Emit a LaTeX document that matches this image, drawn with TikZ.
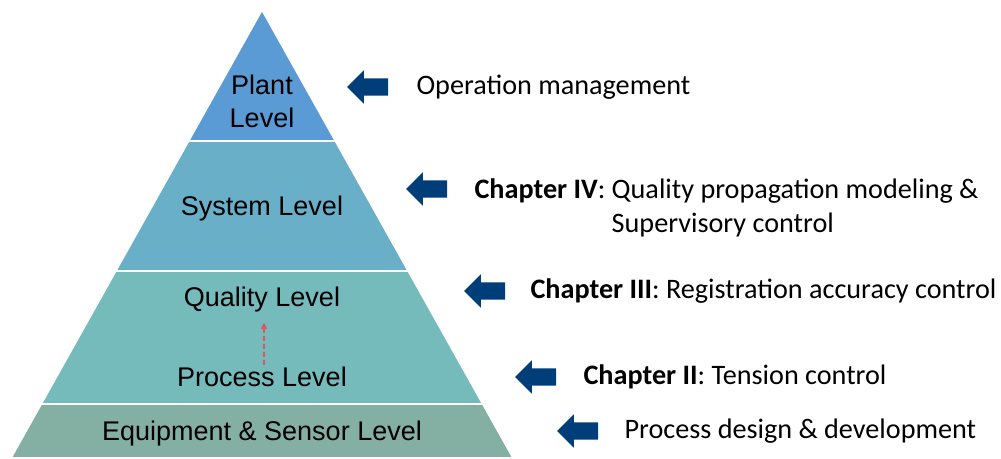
\documentclass[tikz,border=0pt]{standalone}
\usepackage{fontspec}
\setmainfont{Carlito}
\newfontfamily\levelfont{Liberation Sans}
\usepackage{tikz}
\usetikzlibrary{arrows.meta,calc,positioning,shapes.arrows}

\definecolor{plantblue}{RGB}{91,155,213}
\definecolor{systemteal}{RGB}{106,175,200}
\definecolor{qualityteal}{RGB}{118,187,188}
\definecolor{equipgreen}{RGB}{132,176,164}
\definecolor{arrowblue}{RGB}{0,62,122}
\definecolor{flowred}{RGB}{228,82,92}

\begin{document}
\begin{tikzpicture}[
    x=1pt, y=-1pt,
    band/.style={draw=white, line width=1.6pt},
    level/.style={font=\levelfont\fontsize{27}{33}\selectfont, align=center, inner sep=0},
    leftarrow/.style={single arrow, shape border rotate=180, fill=arrowblue,
        minimum height=41pt, inner xsep=0, inner ysep=8.5pt, single arrow head extend=8pt},
    note/.style={font=\fontsize{28.2}{34}\selectfont, align=left, inner sep=0},
    flow/.style={flowred, line width=1.2pt, dash pattern=on 5pt off 3pt,
        -{Triangle[length=6pt,width=6pt]}}]

\useasboundingbox (0,0) rectangle (1001,458);

% pyramid outline and band corners
\coordinate (apex) at (262,10);
\coordinate (bl) at (11,458);
\coordinate (br) at (513,458);
\coordinate (l1) at ($(apex)!0.2924!(bl)$);
\coordinate (r1) at ($(apex)!0.2924!(br)$);
\coordinate (l2) at ($(apex)!0.5826!(bl)$);
\coordinate (r2) at ($(apex)!0.5826!(br)$);
\coordinate (l3) at ($(apex)!0.8795!(bl)$);
\coordinate (r3) at ($(apex)!0.8795!(br)$);

\path[band, fill=plantblue]   (apex) -- (r1) -- (l1) -- cycle;
\path[band, fill=systemteal]  (l1) -- (r1) -- (r2) -- (l2) -- cycle;
\path[band, fill=qualityteal] (l2) -- (r2) -- (r3) -- (l3) -- cycle;
\path[band, fill=equipgreen]  (l3) -- (r3) -- (br) -- (bl) -- cycle;

% level names
\node[level] (plant)   at (262,101) {Plant\\Level};
\node[level] (system)  at (262,209) {System Level};
\node[level] (quality) at (262,300) {Quality Level};
\node[level] (process) at (262,377) {Process Level};
\node[level] (equip)   at (262,434) {Equipment \& Sensor Level};

\draw[flow, shorten <=2pt, shorten >=10pt] ([xshift=2pt]process.north) -- ([xshift=2pt]quality.south);

% arrows and descriptions
\node[leftarrow] (arrA) at (372,87)  {};
\node[leftarrow] (arrB) at (431,189) {};
\node[leftarrow] (arrC) at (489,291) {};
\node[leftarrow] (arrD) at (540,377) {};
\node[leftarrow] (arrE) at (582,431) {};

\node[note, right=28pt of arrA] (noteA) {Operation management};
\node[note, right=27pt of arrB, yshift=-19pt] (noteB)
    {\textbf{Chapter IV}: Quality propagation modeling \&\\
     \phantom{\textbf{Chapter IV}: }Supervisory control};
\node[note, right=25pt of arrC] (noteC) {\textbf{Chapter III}: Registration accuracy control};
\node[note, right=27pt of arrD] (noteD) {\textbf{Chapter II}: Tension control};
\node[note, right=26pt of arrE] (noteE) {Process design \& development};

\end{tikzpicture}
\end{document}
